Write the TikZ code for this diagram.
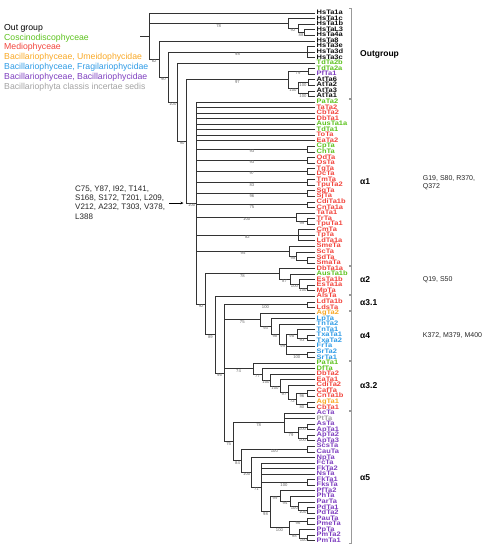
\documentclass[tikz,border=0pt]{standalone}
\usepackage{fontspec}
\setmainfont{Liberation Sans}
\newfontfamily\leaffont{Liberation Sans}[FakeStretch=1.15]
\usetikzlibrary{calc,arrows.meta}
\definecolor{cg}{HTML}{5DC21E}
\definecolor{cr}{HTML}{F2453D}
\definecolor{co}{HTML}{F9A825}
\definecolor{cb}{HTML}{2E9BE6}
\definecolor{cp}{HTML}{7E3FBF}
\definecolor{cy}{HTML}{A3A3A3}
\definecolor{ck}{HTML}{111111}
\newcommand\tleaf[3]{\node[leaf,text=#2] (L#1) at (315,{13+(#1-1)*5.555}) {#3};}
\newcommand\tnode[4]{\path let \p1=($(#3)!.5!(#4)$) in coordinate (#1) at (#2pt,\y1);}
\newcommand\tbr[3]{\draw[brn] (#1) |- node[bs]{#3} (#2);}
\begin{document}
\begin{tikzpicture}[x=1pt,y=-1pt,
  leaf/.style={anchor=west, inner xsep=1.5pt, inner ysep=0pt, text height=4.3pt, text depth=1.0pt, font=\leaffont\fontsize{6.5}{6.5}\selectfont\bfseries},
  brn/.style={line width=0.55pt, draw=black!80},
  bs/.style={pos=0.75, below, inner sep=0.4pt, font=\fontsize{4.2}{4.2}\selectfont, text=black!60},
  leg/.style={anchor=west, inner sep=0pt, font=\fontsize{8.7}{8.7}\selectfont},
  clade/.style={anchor=west, inner sep=0pt, font=\fontsize{8.5}{8.5}\selectfont\bfseries},
  mut/.style={anchor=west, inner sep=0pt, align=left, font=\fontsize{7}{8.4}\selectfont, text=black!85},
  brk/.style={line width=0.6pt, draw=black!40}]
\useasboundingbox (0,0) rectangle (486,550);
% legend
\node[leg,text=black] (lg1) at (4,28.3) {Out group};
\node[leg,text=cg] (lg2) at (4,37.8) {Coscinodiscophyceae};
\node[leg,text=cr] (lg3) at (4,47.3) {Mediophyceae};
\node[leg,text=co] (lg4) at (4,56.9) {Bacillariophyceae, Umeidophycidae};
\node[leg,text=cb] (lg5) at (4,67.0) {Bacillariophyceae, Fragilariophycidae};
\node[leg,text=cp] (lg6) at (4,77.3) {Bacillariophyceae, Bacillariophycidae};
\node[leg,text=cy] (lg7) at (4,87.3) {Bacillariophyta classis incertae sedis};
% leaves
\tleaf{1}{ck}{HsTa1a}
\tleaf{2}{ck}{HsTa1c}
\tleaf{3}{ck}{HsTa1b}
\tleaf{4}{ck}{HsTaL3}
\tleaf{5}{ck}{HsTa4a}
\tleaf{6}{ck}{HsTa8}
\tleaf{7}{ck}{HsTa3e}
\tleaf{8}{ck}{HsTa3d}
\tleaf{9}{ck}{HsTa3c}
\tleaf{10}{cg}{TdTa2b}
\tleaf{11}{cg}{TdTa2a}
\tleaf{12}{cp}{PfTa1}
\tleaf{13}{ck}{AtTa6}
\tleaf{14}{ck}{AtTa2}
\tleaf{15}{ck}{AtTa3}
\tleaf{16}{ck}{AtTa1}
\tleaf{17}{cg}{PaTa2}
\tleaf{18}{cr}{TaTa2}
\tleaf{19}{cr}{CbTa2}
\tleaf{20}{cr}{DbTa1}
\tleaf{21}{cg}{AusTa1a}
\tleaf{22}{cg}{TdTa1}
\tleaf{23}{cr}{ToTa}
\tleaf{24}{cr}{EaTa2}
\tleaf{25}{cg}{CpTa}
\tleaf{26}{cg}{ChTa}
\tleaf{27}{cr}{OdTa}
\tleaf{28}{cr}{OsTa}
\tleaf{29}{cr}{TgTa}
\tleaf{30}{cr}{DcTa}
\tleaf{31}{cr}{TmTa}
\tleaf{32}{cr}{TpuTa2}
\tleaf{33}{cr}{SgTa}
\tleaf{34}{cr}{SjTa}
\tleaf{35}{cr}{CdiTa1b}
\tleaf{36}{cr}{CnTa1a}
\tleaf{37}{cr}{TaTa1}
\tleaf{38}{cr}{TrTa}
\tleaf{39}{cr}{TpuTa1}
\tleaf{40}{cr}{CmTa}
\tleaf{41}{cr}{TpTa}
\tleaf{42}{cr}{LdTa1a}
\tleaf{43}{cr}{SmeTa}
\tleaf{44}{cr}{ScTa}
\tleaf{45}{cr}{SdTa}
\tleaf{46}{cr}{SmaTa}
\tleaf{47}{cr}{DbTa1a}
\tleaf{48}{cg}{AusTa1b}
\tleaf{49}{cr}{EsTa1b}
\tleaf{50}{cr}{EsTa1a}
\tleaf{51}{cr}{MpTa}
\tleaf{52}{cr}{AlsTa}
\tleaf{53}{cr}{LdTa1b}
\tleaf{54}{cr}{LdsTa}
\tleaf{55}{co}{AgTa2}
\tleaf{56}{cb}{LpTa}
\tleaf{57}{cb}{TnTa2}
\tleaf{58}{cb}{TnTa1}
\tleaf{59}{cb}{TxaTa1}
\tleaf{60}{cb}{TxaTa2}
\tleaf{61}{cb}{FrTa}
\tleaf{62}{cb}{SrTa2}
\tleaf{63}{cb}{SrTa1}
\tleaf{64}{cg}{PaTa1}
\tleaf{65}{cg}{DfTa}
\tleaf{66}{cr}{DbTa2}
\tleaf{67}{cr}{EaTa1}
\tleaf{68}{cr}{CdiTa2}
\tleaf{69}{cr}{CafTa}
\tleaf{70}{cr}{CnTa1b}
\tleaf{71}{co}{AgTa1}
\tleaf{72}{cr}{CbTa1}
\tleaf{73}{cp}{AcTa}
\tleaf{74}{cy}{PtTa}
\tleaf{75}{cp}{AsTa}
\tleaf{76}{cp}{ApTa1}
\tleaf{77}{cp}{ApTa2}
\tleaf{78}{cp}{ApTa3}
\tleaf{79}{cp}{ScsTa}
\tleaf{80}{cp}{CauTa}
\tleaf{81}{cp}{NpTa}
\tleaf{82}{cp}{FcTa}
\tleaf{83}{cp}{FkTa2}
\tleaf{84}{cp}{NsTa}
\tleaf{85}{cp}{FkTa1}
\tleaf{86}{cp}{FksTa}
\tleaf{87}{cp}{PfTa2}
\tleaf{88}{cp}{PhTa}
\tleaf{89}{cp}{ParTa}
\tleaf{90}{cp}{PdTa1}
\tleaf{91}{cp}{PdTa2}
\tleaf{92}{cp}{PauTa}
\tleaf{93}{cp}{PmeTa}
\tleaf{94}{cp}{PpTa}
\tleaf{95}{cp}{PmTa2}
\tleaf{96}{cp}{PmTa1}
% ---- outgroup
\tnode{a3}{304}{L4.west}{L5.west}
\tbr{a3}{L4.west}{}\tbr{a3}{L5.west}{}
\tnode{a2}{298}{L3.west}{a3}
\tbr{a2}{L3.west}{}\tbr{a2}{a3}{88}
\tnode{a1}{288}{L2.west}{a2}
\tbr{a1}{L2.west}{}\tbr{a1}{a2}{92}
\tnode{hs3}{307}{L7.west}{L9.west}
\tbr{hs3}{L7.west}{}\tbr{hs3}{L8.west}{}\tbr{hs3}{L9.west}{}
\tnode{t1}{308}{L11.west}{L12.west}
\tbr{t1}{L11.west}{}\tbr{t1}{L12.west}{}
\tnode{at1}{308}{L13.west}{L14.west}
\tbr{at1}{L13.west}{}\tbr{at1}{L14.west}{}
\tnode{at2}{308}{L15.west}{L16.west}
\tbr{at2}{L15.west}{}\tbr{at2}{L16.west}{}
\tnode{at}{298}{at1}{at2}
\tbr{at}{at1}{100}\tbr{at}{at2}{100}
\tnode{nA}{288}{t1}{at}
\tbr{nA}{t1}{79}\tbr{nA}{at}{100}
% ---- alpha1
\tnode{p1}{307}{L25.west}{L26.west}\tbr{p1}{L25.west}{}\tbr{p1}{L26.west}{}
\tnode{p2}{307}{L27.west}{L28.west}\tbr{p2}{L27.west}{}\tbr{p2}{L28.west}{}
\tnode{p3}{307}{L29.west}{L30.west}\tbr{p3}{L29.west}{}\tbr{p3}{L30.west}{}
\tnode{p4}{307}{L31.west}{L32.west}\tbr{p4}{L31.west}{}\tbr{p4}{L32.west}{}
\tnode{p5}{307}{L33.west}{L34.west}\tbr{p5}{L33.west}{}\tbr{p5}{L34.west}{}
\tnode{p6}{307}{L35.west}{L36.west}\tbr{p6}{L35.west}{}\tbr{p6}{L36.west}{}
\tnode{p7i}{307}{L38.west}{L39.west}\tbr{p7i}{L38.west}{}\tbr{p7i}{L39.west}{}
\tnode{p7}{296.7}{L37.west}{p7i}\tbr{p7}{L37.west}{}\tbr{p7}{p7i}{99}
\tnode{p8}{298}{L40.west}{L42.west}\tbr{p8}{L40.west}{}\tbr{p8}{L41.west}{}\tbr{p8}{L42.west}{}
\tnode{p9c}{307}{L45.west}{L46.west}\tbr{p9c}{L45.west}{}\tbr{p9c}{L46.west}{}
\tnode{p9b}{296.7}{L44.west}{p9c}\tbr{p9b}{L44.west}{}\tbr{p9b}{p9c}{}
\tnode{p9}{289.3}{L43.west}{p9b}\tbr{p9}{L43.west}{}\tbr{p9}{p9b}{98}
% ---- alpha2
\tnode{e1}{307}{L50.west}{L51.west}\tbr{e1}{L50.west}{}\tbr{e1}{L51.west}{}
\tnode{e2}{299}{L49.west}{e1}\tbr{e2}{L49.west}{}\tbr{e2}{e1}{100}
\tnode{e3}{290}{L48.west}{e2}\tbr{e3}{L48.west}{}\tbr{e3}{e2}{100}
\tnode{e4}{279}{L47.west}{e3}\tbr{e4}{L47.west}{}\tbr{e4}{e3}{87}
% ---- alpha3.1
\tnode{ld}{307}{L53.west}{L54.west}\tbr{ld}{L53.west}{}\tbr{ld}{L54.west}{}
% ---- alpha4
\tnode{txa}{307}{L59.west}{L60.west}\tbr{txa}{L59.west}{}\tbr{txa}{L60.west}{}
\tnode{sr}{307}{L62.west}{L63.west}\tbr{sr}{L62.west}{}\tbr{sr}{L63.west}{}
\tnode{u4}{297}{L58.west}{txa}\tbr{u4}{L58.west}{}\tbr{u4}{txa}{93}
\tnode{z4}{286.6}{u4}{sr}\tbr{z4}{u4}{98}\tbr{z4}{L61.west}{}\tbr{z4}{sr}{100}
\tnode{q4}{279}{L57.west}{z4}\tbr{q4}{L57.west}{}\tbr{q4}{z4}{99}
\tnode{r4}{270.8}{L56.west}{q4}\tbr{r4}{L56.west}{}\tbr{r4}{q4}{98}
\tnode{b1}{260.6}{L55.west}{r4}\tbr{b1}{L55.west}{}\tbr{b1}{r4}{93}
% ---- alpha3.2
\tnode{c1}{307}{L69.west}{L70.west}\tbr{c1}{L69.west}{}\tbr{c1}{L70.west}{}
\tnode{c2}{307}{L71.west}{L72.west}\tbr{c2}{L71.west}{}\tbr{c2}{L72.west}{}
\tnode{c3}{296.7}{c1}{c2}\tbr{c3}{c1}{96}\tbr{c3}{c2}{80}
\tnode{c4}{288}{L68.west}{c3}\tbr{c4}{L68.west}{}\tbr{c4}{c3}{72}
\tnode{c5}{280}{L67.west}{c4}\tbr{c5}{L67.west}{}\tbr{c5}{c4}{97}
\tnode{c6}{270}{L66.west}{c5}\tbr{c6}{L66.west}{}\tbr{c6}{c5}{100}
\tnode{c7}{262}{L65.west}{c6}\tbr{c7}{L65.west}{}\tbr{c7}{c6}{100}
\tnode{c8}{253}{L64.west}{c7}\tbr{c8}{L64.west}{}\tbr{c8}{c7}{77}
% ---- alpha5
\tnode{d1}{307}{L75.west}{L76.west}\tbr{d1}{L75.west}{}\tbr{d1}{L76.west}{}
\tnode{d2}{307}{L77.west}{L78.west}\tbr{d2}{L77.west}{}\tbr{d2}{L78.west}{}
\tnode{d3}{298}{d1}{d2}\tbr{d3}{d1}{100}\tbr{d3}{d2}{100}
\tnode{d4}{284}{L73.west}{d3}\tbr{d4}{L73.west}{}\tbr{d4}{L74.west}{}\tbr{d4}{d3}{79}
\tnode{f1}{307}{L79.west}{L80.west}\tbr{f1}{L79.west}{}\tbr{f1}{L80.west}{}
\tnode{f2}{307}{L85.west}{L86.west}\tbr{f2}{L85.west}{}\tbr{f2}{L86.west}{}
\tnode{g1}{307}{L90.west}{L91.west}\tbr{g1}{L90.west}{}\tbr{g1}{L91.west}{}
\tnode{g2}{298.7}{L89.west}{g1}\tbr{g2}{L89.west}{}\tbr{g2}{g1}{100}
\tnode{g3}{290}{L88.west}{g2}\tbr{g3}{L88.west}{}\tbr{g3}{g2}{100}
\tnode{g4}{280}{L87.west}{g3}\tbr{g4}{L87.west}{}\tbr{g4}{g3}{94}
\tnode{h1}{307}{L92.west}{L93.west}\tbr{h1}{L92.west}{}\tbr{h1}{L93.west}{}
\tnode{h2}{307}{L95.west}{L96.west}\tbr{h2}{L95.west}{}\tbr{h2}{L96.west}{}
\tnode{h3}{299.6}{L94.west}{h2}\tbr{h3}{L94.west}{}\tbr{h3}{h2}{100}
\tnode{h4}{289}{h1}{h3}\tbr{h4}{h1}{96}\tbr{h4}{h3}{98}
\tnode{k1}{270}{g4}{h4}\tbr{k1}{g4}{99}\tbr{k1}{h4}{100}
\tnode{k2}{261}{L82.west}{k1}\tbr{k2}{L82.west}{}\tbr{k2}{L83.west}{}\tbr{k2}{L84.west}{}\tbr{k2}{f2}{100}\tbr{k2}{k1}{98}
\tnode{k3}{251.7}{L81.west}{k2}\tbr{k3}{L81.west}{}\tbr{k3}{k2}{71}
\tnode{k4}{241.7}{f1}{k3}\tbr{k4}{f1}{100}\tbr{k4}{k3}{100}
\tnode{n233}{233.3}{d4}{k4}\tbr{n233}{d4}{78}\tbr{n233}{k4}{84}
% ---- backbone
\tnode{n224}{224}{ld}{n233}
\tbr{n224}{ld}{100}\tbr{n224}{b1}{75}\tbr{n224}{c8}{74}\tbr{n224}{n233}{75}
\tnode{n215}{215}{L52.west}{n224}\tbr{n215}{L52.west}{}\tbr{n215}{n224}{96}
\tnode{n205}{205.7}{e4}{n215}\tbr{n205}{e4}{78}\tbr{n205}{n215}{89}
\tnode{n196}{196.7}{L17.west}{n205}
\tbr{n196}{L17.west}{}\tbr{n196}{L18.west}{}\tbr{n196}{L19.west}{}\tbr{n196}{L20.west}{}
\tbr{n196}{L21.west}{}\tbr{n196}{L22.west}{}\tbr{n196}{L23.west}{}\tbr{n196}{L24.west}{}
\tbr{n196}{p1}{93}\tbr{n196}{p2}{93}\tbr{n196}{p3}{97}\tbr{n196}{p4}{83}\tbr{n196}{p5}{96}\tbr{n196}{p6}{75}
\tbr{n196}{p7}{100}\tbr{n196}{p8}{82}\tbr{n196}{p9}{95}\tbr{n196}{n205}{92}
\tnode{n187}{186.7}{nA}{n196}\tbr{n187}{nA}{97}\tbr{n187}{n196}{100}
\tnode{n178}{177.7}{L10.west}{n187}\tbr{n178}{L10.west}{}\tbr{n178}{n187}{90}
\tnode{n168}{168}{hs3}{n178}\tbr{n168}{hs3}{98}\tbr{n168}{n178}{100}
\tnode{n159}{159}{L6.west}{n168}\tbr{n159}{L6.west}{}\tbr{n159}{n168}{90}
\tnode{root}{149.3}{L1.west}{n159}\tbr{root}{L1.west}{}\tbr{root}{a1}{78}\tbr{root}{n159}{62}
\path let \p1=(root) in coordinate (rstub) at (140pt,\y1);
\draw[brn] (root) -- (rstub);
% ---- annotation arrow
\path let \p1=(n196) in coordinate (arT) at (169pt,\y1) coordinate (arH) at (183.5pt,\y1);
\node[mut, font=\fontsize{8}{9.3}\selectfont, text=black!85] (sub) at (75,202.3) {C75, Y87, I92, T141,\\S168, S172, T201, L209,\\V212, A232, T303, V378,\\L388};
\draw[line width=0.7pt, -{Stealth[length=3pt,width=2.6pt]}] (arT) -- (arH);
% ---- brackets
\foreach \a/\b in {8.3/98.3, 99.3/265, 266/294, 295/310, 311/360, 361/410, 411/543.3}
  \draw[brk] (349,\a) -- (351.7,\a) -- (351.7,\b) -- (349,\b);
\node[clade] (cl0) at (360,54) {Outgroup};
\node[clade] (cl1) at (360,182) {α1};
\node[clade] (cl2) at (360,280) {α2};
\node[clade] (cl3) at (360,302.5) {α3.1};
\node[clade] (cl4) at (360,335.7) {α4};
\node[clade] (cl5) at (360,385.7) {α3.2};
\node[clade] (cl6) at (360,477.3) {α5};
\node[mut] (m1) at (422.7,182.5) {G19, S80, R370,\\Q372};
\node[mut] (m2) at (422.7,279.3) {Q19, S50};
\node[mut] (m3) at (422.7,335) {K372, M379, M400};
\end{tikzpicture}
\end{document}
